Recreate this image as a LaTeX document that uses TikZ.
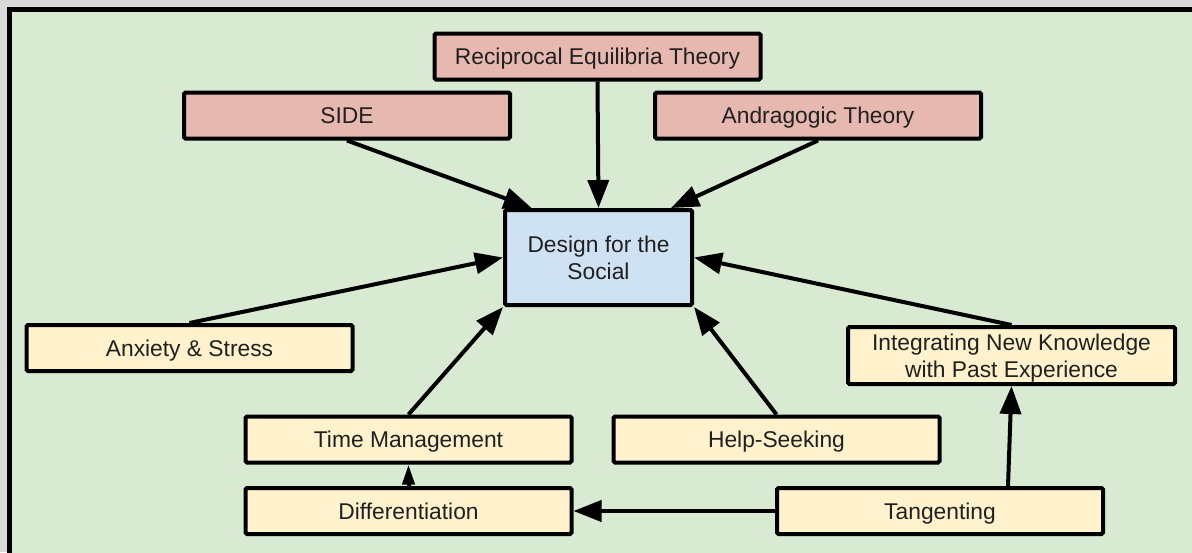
\documentclass[tikz,border=0pt]{standalone}
\usepackage{fontspec}
\setmainfont{Liberation Sans}
\usetikzlibrary{arrows.meta,calc}
\definecolor{pagegrey}{HTML}{D9D9D9}
\definecolor{canvasgreen}{HTML}{D9EAD3}
\definecolor{theoryred}{HTML}{E6B8AF}
\definecolor{coreblue}{HTML}{CFE2F3}
\definecolor{factoryellow}{HTML}{FFF2CC}
\definecolor{inkgrey}{HTML}{202020}
\tikzset{
  box/.style={draw=black, line width=4pt, rounded corners=1.5pt, inner sep=0pt,
    minimum width=326pt, minimum height=46pt, align=center, text=inkgrey,
    font=\fontsize{22.8}{27}\selectfont},
  oneline/.style={text height=16.5pt, text depth=0.5pt},
  theory/.style={box, oneline, fill=theoryred},
  core/.style={box, fill=coreblue, minimum width=187pt, minimum height=95pt},
  factor/.style={box, fill=factoryellow},
  link/.style={line width=4pt, -{Triangle[length=28pt,width=21pt]}},
  shortlink/.style={line width=4pt, -{Triangle[length=20pt,width=12pt]}}
}
\begin{document}
\begin{tikzpicture}[x=1pt,y=-1pt]
  \useasboundingbox (0,0) rectangle (1192,552);
  \clip (0,0) rectangle (1192,552);
  \fill[pagegrey] (0,0) rectangle (1192,552);
  \draw[fill=canvasgreen, line width=4.5pt] (9.5,9.5) rectangle (1260,640);

  % theory boxes
  \node[theory] (ret)  at (597.5,56.5) {Reciprocal Equilibria Theory};
  \node[theory] (side) at (347,115.5) {SIDE};
  \node[theory] (andr) at (818,115.5) {Andragogic Theory};

  % central box
  \node[core] (design) at (598.5,257.5) {Design for the\\Social};

  % factor boxes
  \node[factor, oneline] (anx)   at (189.5,348) {Anxiety \& Stress};
  \node[factor, minimum width=327pt, minimum height=57pt, text depth=0pt] (integ)
    at (1011.5,355.5) {Integrating New Knowledge\\with Past Experience};
  \node[factor, oneline] (tm)    at (408.5,439.5) {Time Management};
  \node[factor, oneline] (help)  at (776.5,439.5) {Help-Seeking};
  \node[factor, oneline] (diff)  at (408.5,511) {Differentiation};
  \node[factor, oneline] (tang)  at (940,511) {Tangenting};

  % connectors into the central box
  \draw[link] (ret.south) -- (design.north);
  \draw[link] (side.south) -- ($(design.north west)!0.15!(design.north east)$);
  \draw[link] (andr.south) -- ($(design.north west)!0.88!(design.north east)$);
  \draw[link] (anx.north) -- (design.west);
  \draw[link] (integ.north) -- (design.east);
  \draw[link] (tm.north) -- (design.south west);
  \draw[link] (help.north) -- (design.south east);

  % lower connectors
  \draw[link] ($(tang.north)+(68,0)$) -- (integ.south);
  \draw[link] (tang.west) -- (diff.east);
  \draw[shortlink] (diff.north) -- (tm.south);
\end{tikzpicture}
\end{document}
